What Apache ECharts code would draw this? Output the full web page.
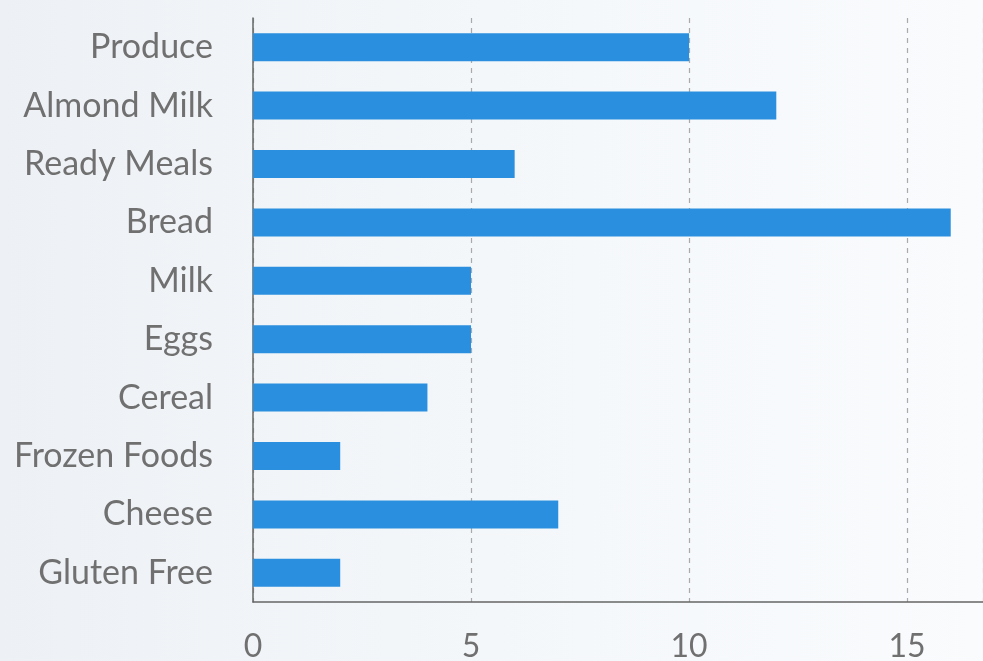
<!DOCTYPE html>
<html>
<head>
<meta charset="utf-8">
<script src="https://cdn.jsdelivr.net/npm/echarts@6/dist/echarts.min.js"></script>
<style>
html,body{margin:0;padding:0;}
#c{width:983px;height:661px;background:linear-gradient(90deg,#edf1f5 0%,#f4f7fa 50%,#f9fbfd 100%);}
</style>
</head>
<body>
<div id="c"></div>
<script>
const categories = ["Produce","Almond Milk","Ready Meals","Bread","Milk","Eggs","Cereal","Frozen Foods","Cheese","Gluten Free"];
const values = [10,12,6,16,5,5,4,2,7,2];
const xTicks = [0,5,10,15];

const chart = echarts.init(document.getElementById('c'), null, {renderer:'canvas'});
chart.setOption({
  backgroundColor: 'transparent',
  animation: false,
  grid: {left: 253, right: 0, top: 18, bottom: 59, containLabel: false, outerBoundsMode: 'none'},
  xAxis: {
    type: 'value', min: 0, max: 16.74, interval: 5,
    axisLine: {show: true, lineStyle: {color: '#666', width: 1.5}},
    axisTick: {show: false},
    splitLine: {show: true, lineStyle: {color: '#aaa', type: [5,5], width: 1.2}},
    axisLabel: {
      showMaxLabel: false, margin: 29, color: '#707070',
      fontFamily: 'Lato', fontSize: 32,
      formatter: v => xTicks.includes(v) ? String(v) : ''
    }
  },
  yAxis: {
    type: 'category', data: categories, inverse: true,
    axisLine: {show: true, lineStyle: {color: '#666', width: 1.5}},
    axisTick: {show: false},
    axisLabel: {margin: 40, color: '#707070', fontFamily: 'Lato', fontSize: 34}
  },
  series: [{
    type: 'bar', data: values, barWidth: 28,
    itemStyle: {color: '#2a8fde'}
  }]
});
</script>
</body>
</html>
